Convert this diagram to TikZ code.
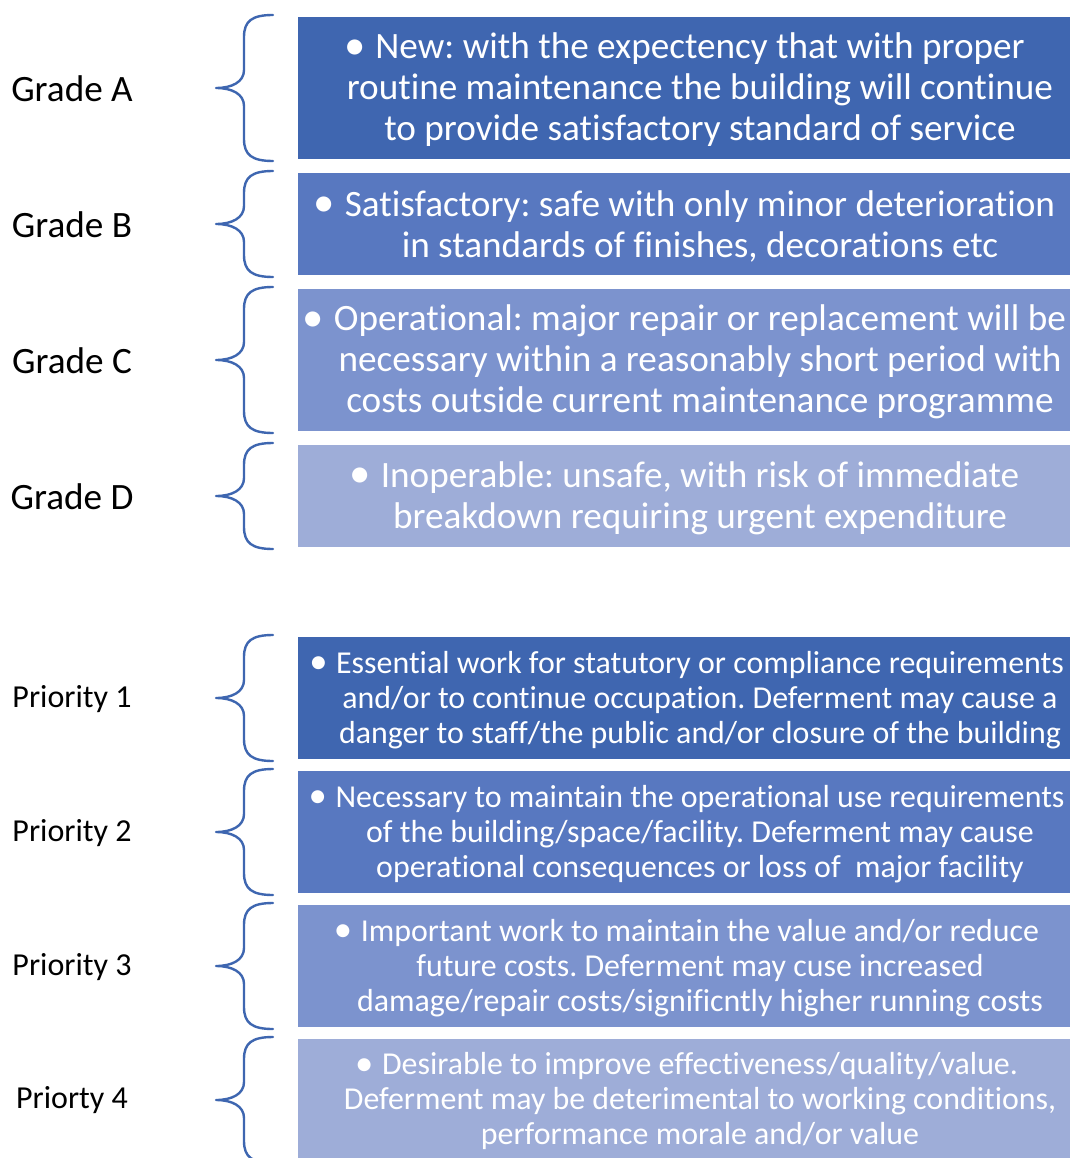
\documentclass[tikz,border=0pt]{standalone}
\usepackage{fontspec}
\setmainfont{Carlito}[Ligatures={NoCommon}]
\frenchspacing
\definecolor{cA}{HTML}{3F66B0}
\definecolor{cB}{HTML}{5878C0}
\definecolor{cC}{HTML}{7C93CE}
\definecolor{cD}{HTML}{9EADD8}
\definecolor{brc}{HTML}{3E66B0}
\tikzset{
  boxshape/.style={rectangle, inner sep=0pt, draw=none, minimum width=772pt},
  boxtext/.style={align=center, inner sep=0pt, text=white},
  gtext/.style={boxtext, font=\fontsize{37.2}{41}\selectfont},
  ptext/.style={boxtext, font=\fontsize{31.9}{35}\selectfont},
  glabel/.style={inner sep=0pt, anchor=center, font=\fontsize{37.2}{40}\selectfont},
  plabel/.style={inner sep=0pt, anchor=center, font=\fontsize{32}{36}\selectfont},
  bracestyle/.style={draw=brc, line width=2.4pt, line cap=round, line join=round}
}
\newcommand\bul{\llap{\raisebox{-0.02em}{\scalebox{1.15}{•}}\hspace{0.27em}}}
\newcommand\cbrace[2]{%
  \pgfmathsetmacro\bmid{(#1+#2)/2}%
  \draw[bracestyle] (273,#1) .. controls (252,#1) and (244,#1+6) .. (244,#1+22)
    -- (244,\bmid-18) .. controls (244,\bmid-6) and (232,\bmid) .. (216,\bmid)
    .. controls (232,\bmid) and (244,\bmid+6) .. (244,\bmid+18)
    -- (244,#2-22) .. controls (244,#2-6) and (252,#2) .. (273,#2);}
\begin{document}
\begin{tikzpicture}[x=1pt,y=-1pt]
\useasboundingbox[fill=white] (0,0) rectangle (1070,1158);
% Grade boxes
\node[boxshape, fill=cA, minimum height=142pt] (bA) at (684,88) {};
\node[boxshape, fill=cB, minimum height=102pt] (bB) at (684,224) {};
\node[boxshape, fill=cC, minimum height=142pt] (bC) at (684,360) {};
\node[boxshape, fill=cD, minimum height=102pt] (bD) at (684,496) {};
\node[gtext] (tA) at (700,90) {\bul New: with the expectency that with proper\\routine maintenance the building will continue\\to provide satisfactory standard of service};
\node[gtext] (tB) at (700,226) {\bul Satisfactory: safe with only minor deterioration\\in standards of finishes, decorations etc};
\node[gtext] (tC) at (700,362) {\bul Operational: major repair or replacement will be\\necessary within a reasonably short period with\\costs outside current maintenance programme};
\node[gtext] (tD) at (700,498) {\bul Inoperable: unsafe, with risk of immediate\\breakdown requiring urgent expenditure};
\node[glabel] (lA) at (72,89) {Grade A};
\node[glabel] (lB) at (72,225) {Grade B};
\node[glabel] (lC) at (72,361) {Grade C};
\node[glabel] (lD) at (72,497) {Grade D};
\cbrace{15}{161}
\cbrace{171}{277}
\cbrace{287}{433}
\cbrace{443}{549}
% Priority boxes
\node[boxshape, fill=cA, minimum height=122pt] (p1) at (684,698) {};
\node[boxshape, fill=cB, minimum height=122pt] (p2) at (684,832) {};
\node[boxshape, fill=cC, minimum height=122pt] (p3) at (684,966) {};
\node[boxshape, fill=cD, minimum height=122pt] (p4) at (684,1100) {};
\node[ptext] (q1) at (700,700) {\bul Essential work for statutory or compliance requirements\\and/or to continue occupation. Deferment may cause a\\danger to staff/the public and/or closure of the building};
\node[ptext] (q2) at (700,834) {\bul Necessary to maintain the operational use requirements\\of the building/space/facility. Deferment may cause\\operational consequences or loss of\ \ major facility};
\node[ptext] (q3) at (700,968) {\bul Important work to maintain the value and/or reduce\\future costs. Deferment may cuse increased\\damage/repair costs/significntly higher running costs};
\node[ptext] (q4) at (700,1101) {\bul Desirable to improve effectiveness/quality/value.\\Deferment may be deterimental to working conditions,\\performance morale and/or value};
\node[plabel] (m1) at (72,699) {Priority 1};
\node[plabel] (m2) at (72,833) {Priority 2};
\node[plabel] (m3) at (72,967) {Priority 3};
\node[plabel] (m4) at (72,1100) {Priorty 4};
\cbrace{635}{761}
\cbrace{769}{895}
\cbrace{903}{1029}
\cbrace{1037}{1163}
\end{tikzpicture}
\end{document}
